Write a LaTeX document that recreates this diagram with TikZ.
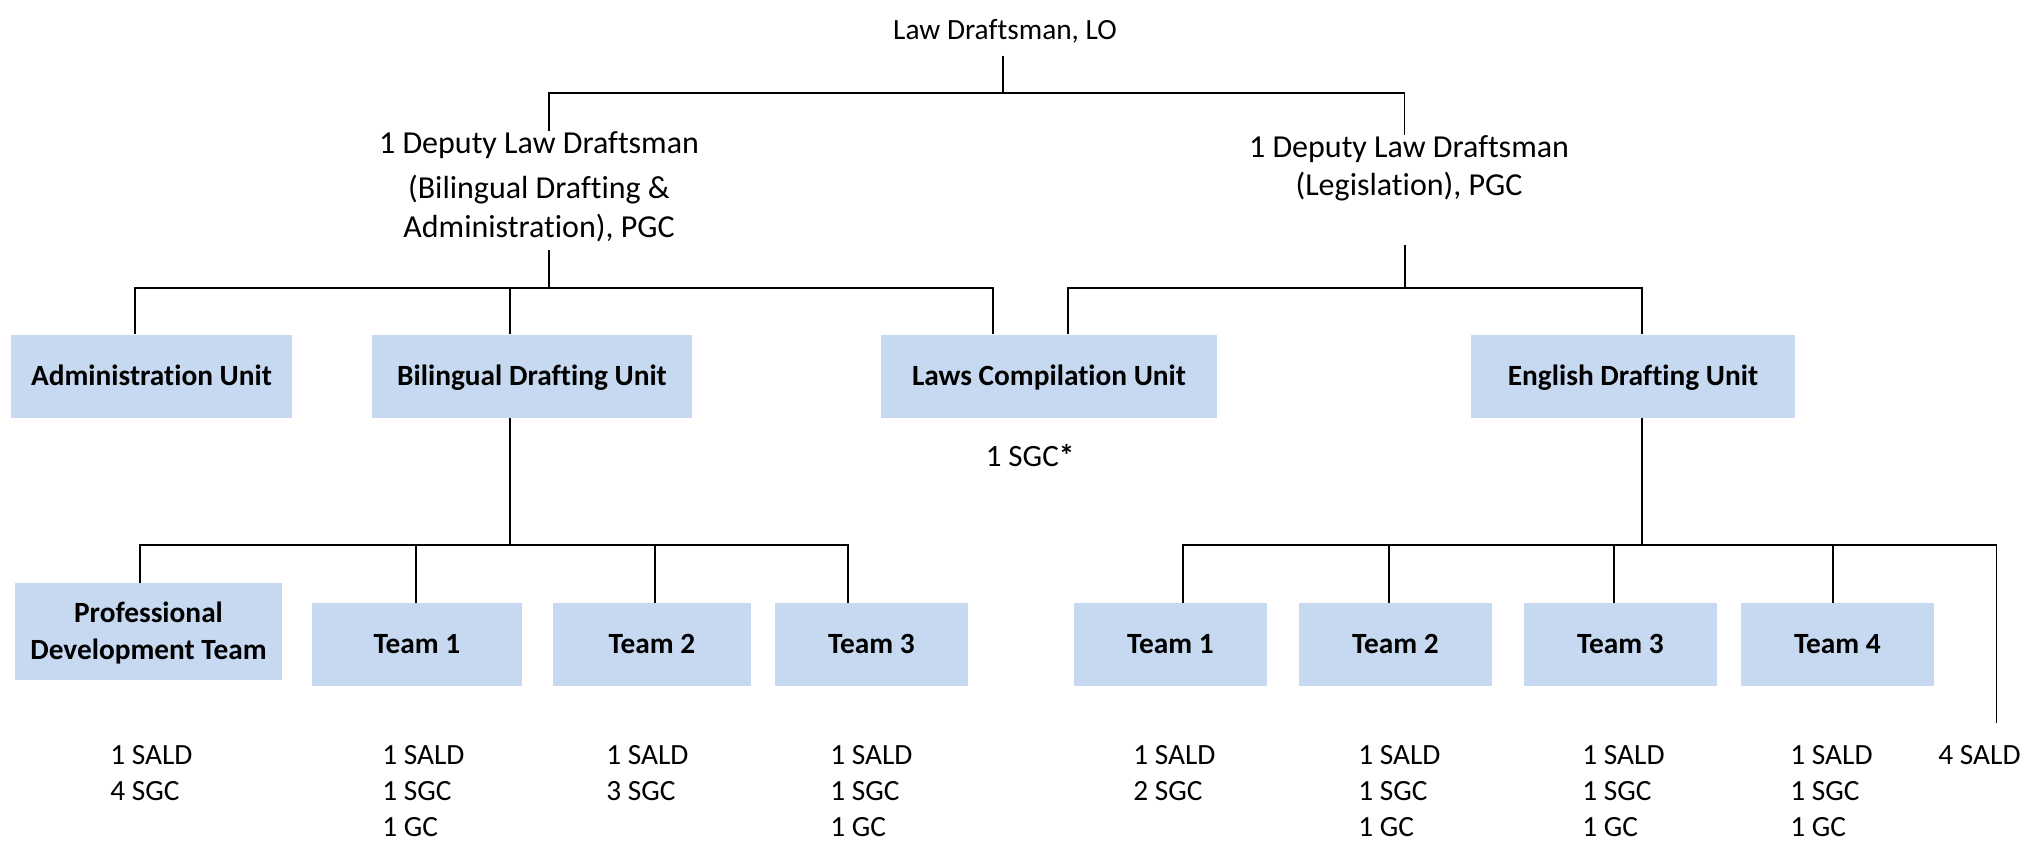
\documentclass[tikz,border=0pt]{standalone}
\usepackage{fontspec}
\setmainfont{Carlito}[Ligatures=NoCommon]
\definecolor{unitblue}{HTML}{C6D9F1}

\begin{document}
\begin{tikzpicture}
		[x=0.5pt,y=-0.5pt,every node/.style={font=\fontsize{14.67}{18}\selectfont,inner sep=0pt},
		unit/.style={fill=unitblue,font=\fontsize{14.67}{18}\selectfont\bfseries,align=center,minimum height=41.5pt,text height=9.45pt,text depth=0pt},
		post/.style={align=center,anchor=base},
		deputy/.style={post,font=\fontsize{16}{19.5}\selectfont},
		staff/.style={align=left,anchor=north west},
		link/.style={line width=0.9pt}]
		\useasboundingbox (0,0) rectangle (2022,850);
		% posts
		\node (ldm) [post] at (1005,39.5) {Law Draftsman, LO};
		\node (dl) [deputy] at (539,237.3) {1 Deputy Law Draftsman\\[3pt](Bilingual Drafting \&\\Administration), PGC};
		\node (dr) [deputy] at (1409,195.3) {1 Deputy Law Draftsman\\[-0.5pt](Legislation), PGC};
		% units
		\node (adm) [unit,minimum width=140.5pt] at (151.5,376) {Administration Unit};
		\node (bdu) [unit,minimum width=160pt] at (532,376) {Bilingual Drafting Unit};
		\node (lcu) [unit,minimum width=168pt] at (1049,376) {Laws Compilation Unit};
		\node (edu) [unit,minimum width=162pt] at (1633,376) {English Drafting Unit};
		\node (sgc) [anchor=base,font=\fontsize{15.5}{18}\selectfont] at (1030,466.5) {1 SGC\textbf{*}};
		% teams
		\node (pdt) [unit,minimum width=133.5pt,minimum height=48.5pt,text height=27.95pt] at (148.5,631.5) {Professional\\[0.5pt]Development Team};
		\node (bt1) [unit,minimum width=105pt] at (417,644.5) {Team 1};
		\node (bt2) [unit,minimum width=99pt] at (652,644.5) {Team 2};
		\node (bt3) [unit,minimum width=96.5pt] at (871.5,644.5) {Team 3};
		\node (et1) [unit,minimum width=96.5pt] at (1170.5,644.5) {Team 1};
		\node (et2) [unit,minimum width=96.5pt] at (1395.5,644.5) {Team 2};
		\node (et3) [unit,minimum width=96.5pt] at (1620.5,644.5) {Team 3};
		\node (et4) [unit,minimum width=96.5pt] at (1837.5,644.5) {Team 4};
		% staff
		\node (spdt) [staff] at (110,745) {1 SALD\\4 SGC};
		\node (sbt1) [staff] at (382,745) {1 SALD\\1 SGC\\1 GC};
		\node (sbt2) [staff] at (606,745) {1 SALD\\3 SGC};
		\node (sbt3) [staff] at (830,745) {1 SALD\\1 SGC\\1 GC};
		\node (set1) [staff] at (1133,745) {1 SALD\\2 SGC};
		\node (set2) [staff] at (1358,745) {1 SALD\\1 SGC\\1 GC};
		\node (set3) [staff] at (1582,745) {1 SALD\\1 SGC\\1 GC};
		\node (set4) [staff] at (1790,745) {1 SALD\\1 SGC\\1 GC};
		\node (sedu) [staff] at (1938,745) {4 SALD};
		
		\coordinate (j1) at (1003,92.7);
		\coordinate (j2) at (549,288);
		\coordinate (j3) at (1405,288);
		\coordinate (j4) at (510,545);
		\coordinate (j5) at (1642,545);
		
		\draw[link] ([yshift=-6pt]ldm.south -| j1) -- (j1);
		\draw[link] ([yshift=-4pt]dl.south -| j2) -- (j2);
		\draw[link] ([yshift=-22pt]dr.south -| j3) -- (j3);
		\draw[link] (bdu.south -| j4) -- (j4);
		\draw[link] (edu.south -| j5) -- (j5);
		
		\foreach \from/\to/\dx/\dy in {j1/dl/5pt/0pt,j1/dr/-2.25pt/0pt,
			j2/adm/-8.25pt/0pt,j2/bdu/-11pt/0pt,j2/lcu/-28pt/0pt,
			j3/lcu/9.5pt/0pt,j3/edu/4.5pt/0pt,
			j4/pdt/-4.25pt/0pt,j4/bt1/-0.5pt/0pt,j4/bt2/1.5pt/0pt,j4/bt3/-11.75pt/0pt,
			j5/et1/6.25pt/0pt,j5/et2/-3.25pt/0pt,j5/et3/-3.25pt/0pt,j5/et4/-2.25pt/0pt,
			j5/sedu/8.5pt/11pt}
		\draw[link] (\from) -| ([xshift=\dx,yshift=\dy]\to.north);
		\end{tikzpicture}
\end{document}
